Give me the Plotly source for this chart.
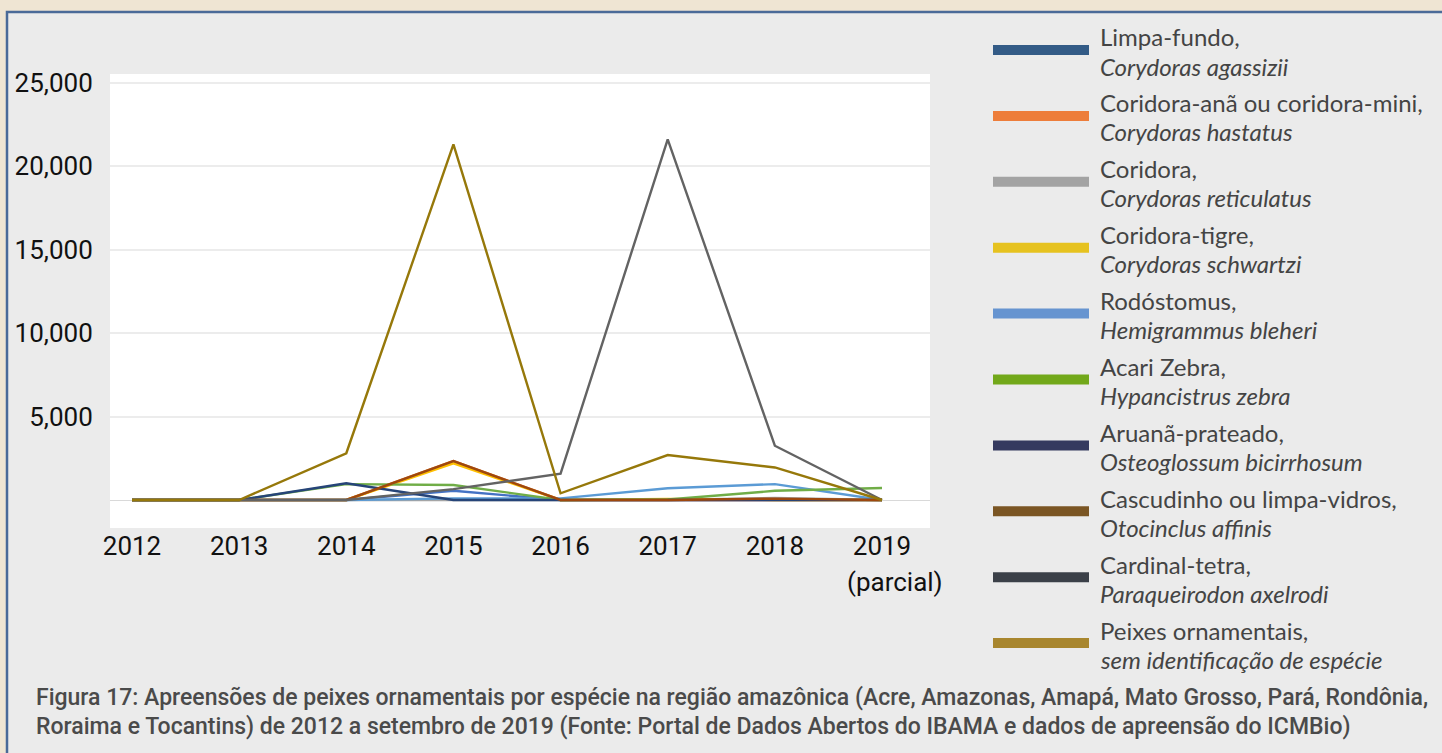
import plotly.graph_objects as go

# ---------------- data ----------------
years = ["2012", "2013", "2014", "2015", "2016", "2017", "2018", "2019"]
inner_tick_labels = ["2012", "2013", "2014", "2015", "2016", "2017", "2018", "2019 (partial)"]
outer_tick_labels = ["2012", "2013", "2014", "2015", "2016", "2017", "2018", "2019"]

y_tick_vals = [5000, 10000, 15000, 20000, 25000]
y_tick_text = ["5,000", "10,000", "15,000", "20,000", "25,000"]

common_names = [
    "Limpa-fundo,",
    "Coridora-anã ou coridora-mini,",
    "Coridora,",
    "Coridora-tigre,",
    "Rodóstomus,",
    "Acari Zebra,",
    "Aruanã-prateado,",
    "Cascudinho ou limpa-vidros,",
    "Cardinal-tetra,",
    "Peixes ornamentais,",
]
scientific_names = [
    "Corydoras agassizii",
    "Corydoras hastatus",
    "Corydoras reticulatus",
    "Corydoras schwartzi",
    "Hemigrammus bleheri",
    "Hypancistrus zebra",
    "Osteoglossum bicirrhosum",
    "Otocinclus affinis",
    "Paraqueirodon axelrodi",
    "sem identificação de espécie",
]

limpa_fundo = [0, 0, 0, 550, 0, 0, 0, 0]
coridora_ana = [0, 0, 0, 2330, 0, 0, 0, 0]
coridora = [0, 0, 0, 0, 0, 0, 120, 0]
coridora_tigre = [0, 0, 0, 2200, 0, 60, 0, 0]
rodostomus = [0, 0, 0, 100, 100, 700, 950, 0]
acari_zebra = [0, 0, 950, 900, 0, 30, 550, 720]
aruana = [0, 0, 1000, 0, 0, 0, 0, 0]
cascudinho = [0, 0, 0, 2330, 0, 0, 80, 0]
cardinal = [0, 0, 0, 650, 1580, 21600, 3250, 0]
peixes = [0, 0, 2800, 21300, 400, 2690, 1950, 0]

series_values = [limpa_fundo, coridora_ana, coridora, coridora_tigre, rodostomus,
                 acari_zebra, aruana, cascudinho, cardinal, peixes]

# ---------------- styles ----------------
line_colors = ["#4472c4", "#ed7d31", "#a5a5a5", "#ffc000", "#5b9bd5",
               "#70ad47", "#264478", "#9e480e", "#636363", "#96780a"]
legend_colors = ["#335b86", "#ed7d3a", "#a3a3a3", "#e6c21f", "#6694d0",
                 "#72a81a", "#353a5f", "#7a5523", "#3b4048", "#a8862e"]

W, H = 1442, 753
PL, PR, PT, PB = 110, 930, 74, 528  # plot area in pixels


def px_x(x):
    return (x - PL) / (PR - PL)


def px_y(y):
    return (PB - y) / (PB - PT)


fig = go.Figure()
for name, vals, col in zip(scientific_names, series_values, line_colors):
    fig.add_trace(go.Scatter(x=years, y=vals, mode="lines", name=name,
                             line=dict(color=col, width=2.4), showlegend=False))

shapes = []
annotations = []

# page background strips + panel border
shapes.append(dict(type="rect", xref="paper", yref="paper", x0=px_x(0), x1=px_x(W),
                   y0=px_y(0), y1=px_y(11), fillcolor="#efe5d3", line=dict(width=0), layer="below"))
shapes.append(dict(type="rect", xref="paper", yref="paper", x0=px_x(0), x1=px_x(6),
                   y0=px_y(0), y1=px_y(H), fillcolor="#efe5d3", line=dict(width=0), layer="below"))
shapes.append(dict(type="path", xref="paper", yref="paper",
                   path=f"M {px_x(7)},{px_y(H)} L {px_x(7)},{px_y(12)} L {px_x(W)},{px_y(12)}",
                   line=dict(color="#4a6a98", width=2.5)))

# legend (custom drawn)
leg_y0 = 50
leg_step = 65.9
for i, (cn, sn, col) in enumerate(zip(common_names, scientific_names, legend_colors)):
    cy = leg_y0 + i * leg_step
    shapes.append(dict(type="rect", xref="paper", yref="paper",
                       x0=px_x(993), x1=px_x(1089), y0=px_y(cy - 5), y1=px_y(cy + 5),
                       fillcolor=col, line=dict(width=0)))
    annotations.append(dict(xref="paper", yref="paper", x=px_x(1098), y=px_y(cy - 13),
                            xanchor="left", yanchor="middle", showarrow=False, text=cn,
                            font=dict(family="Lato", size=24, color="#444444")))
    annotations.append(dict(xref="paper", yref="paper", x=px_x(1098), y=px_y(cy + 16),
                            xanchor="left", yanchor="middle", showarrow=False, text=f"<i>{sn}</i>",
                            font=dict(family="Lato", size=24, color="#444444")))

# small tick labels inside the white plot area
for yr, lab in zip(years, inner_tick_labels):
    annotations.append(dict(xref="x", yref="paper", x=yr, y=px_y(513), showarrow=False,
                            text=lab, xanchor="center", yanchor="middle",
                            font=dict(family="Liberation Sans Narrow, Liberation Sans", size=7, color="#7a7a7a")))

# "(parcial)" under 2019
annotations.append(dict(xref="paper", yref="paper", x=px_x(845), y=px_y(582), showarrow=False,
                        text="(parcial)", xanchor="left", yanchor="middle",
                        font=dict(family="Roboto", size=26, color="#111111")))

# caption
caption1 = ("Figura 17: Apreensões de peixes ornamentais por espécie na região amazônica "
            "(Acre, Amazonas, Amapá, Mato Grosso, Pará, Rondônia,")
caption2 = ("Roraima e Tocantins) de 2012 a setembro de 2019 (Fonte: Portal de Dados Abertos "
            "do IBAMA e dados de apreensão do ICMBio)")
for txt, cy in [(caption1, 697), (caption2, 726)]:
    annotations.append(dict(xref="paper", yref="paper", x=px_x(34), y=px_y(cy), showarrow=False,
                            text=txt, xanchor="left", yanchor="middle",
                            font=dict(family="Roboto", size=23, color="#4a4a4a", weight=500)))

y_per_px = 5000 / 83.5
y_min = -(PB - 500) * y_per_px
y_max = (500 - PT) * y_per_px
x_step = 107.14
x_min = -(132 - PL) / x_step
x_max = 7 + (PR - 882) / x_step

fig.update_layout(
    width=W, height=H,
    margin=dict(l=PL, r=W - PR, t=PT, b=H - PB, pad=0),
    paper_bgcolor="#ebebeb",
    plot_bgcolor="#ffffff",
    shapes=shapes,
    annotations=annotations,
    hovermode=False,
    xaxis=dict(type="category", range=[x_min, x_max], tickmode="array",
               tickvals=years, ticktext=outer_tick_labels, showgrid=False,
               ticks="", ticklen=0,
               tickfont=dict(family="Roboto", size=26, color="#111111"),
               showline=False, zeroline=False),
    yaxis=dict(range=[y_min, y_max], tickmode="array", tickvals=y_tick_vals,
               ticktext=y_tick_text, showgrid=True, gridcolor="#ececec", gridwidth=1.5,
               zeroline=True, zerolinecolor="#d9d9d9", zerolinewidth=1,
               ticks="outside", ticklen=11, tickcolor="rgba(0,0,0,0)",
               tickfont=dict(family="Roboto", size=26, color="#111111"),
               showline=False),
)

fig.write_html("out.html", config={"displayModeBar": False},
               post_script="document.body.style.margin='0';document.body.style.padding='0';")
